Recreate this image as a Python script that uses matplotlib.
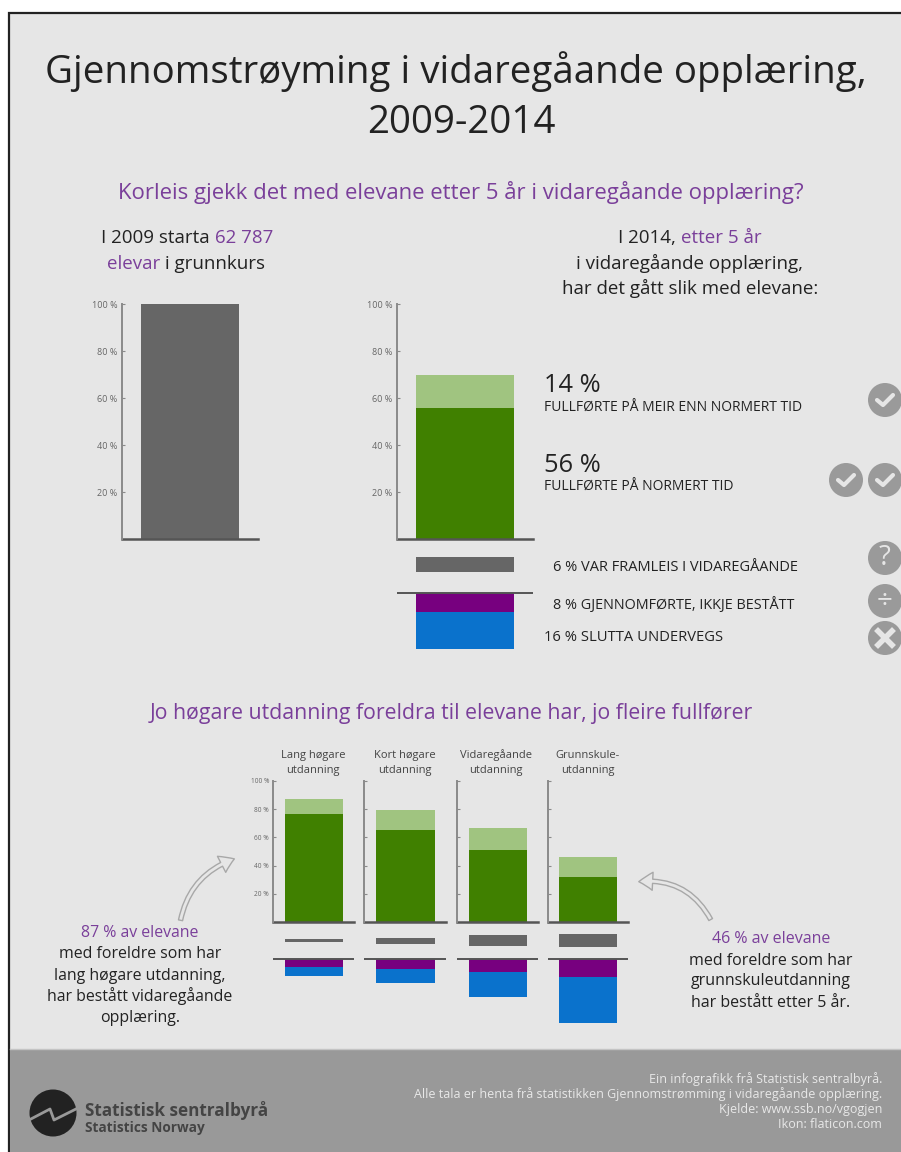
import matplotlib
matplotlib.use("Agg")
import matplotlib.pyplot as plt
from matplotlib.patches import Circle, FancyArrowPatch, Rectangle

plt.rcParams["font.family"] = ["Open Sans", "DejaVu Sans"]

W, H = 901, 1152

PAGE = "#e6e6e6"
FOOTER = "#999999"
DARK = "#222222"
PURPLE = "#7a3f9a"
GREY_BAR = "#666666"
GREEN = "#408000"
LIGHT_GREEN = "#a0c480"
VIOLET = "#77007f"
BLUE = "#0a72cc"
AXIS = "#8a8a8a"
BASE = "#555555"
ICON = "#9a9a9a"

percent_ticks = [20, 40, 60, 80, 100]
percent_labels = ["20 %", "40 %", "60 %", "80 %", "100 %"]

# Alle elevar som starta i 2009
start_total = 100

# Status etter 5 år, alle elevar
normal_all = 56
extra_all = 14
framleis_all = 6
ikkje_bestatt_all = 8
slutta_all = 16

# Status etter 5 år, etter foreldra si utdanning
education = ["Lang høgare\nutdanning", "Kort høgare\nutdanning",
             "Vidaregåande\nutdanning", "Grunnskule-\nutdanning"]
normal_edu = [76.5, 65, 51, 32]
extra_edu = [10.5, 14, 15.5, 14]
framleis_edu = [2.5, 4, 7.5, 9]
ikkje_bestatt_edu = [5.4, 7.3, 8.9, 12.5]
slutta_edu = [6.4, 9.4, 17.7, 33]

fig = plt.figure(figsize=(W / 100, H / 100), dpi=100, facecolor="white")

# overlay in pixel units for text and decoration
page = fig.add_axes([0, 0, 1, 1], zorder=0)
page.set_xlim(0, W)
page.set_ylim(H, 0)
page.axis("off")
page.add_patch(Rectangle((9, 13), W, H, fc=PAGE, ec="#222222", lw=1.6))
page.add_patch(Rectangle((10, 1049), W, H - 1049, fc=FOOTER, ec="none"))
page.plot([10, W], [1049, 1049], color="#c4c4c4", lw=1)


def panel(left, right, top, bottom, ymin, labels=True, tick_size=6.5):
    ax = fig.add_axes([left / W, 1 - bottom / H, (right - left) / W, (bottom - top) / H], zorder=2)
    ax.patch.set_visible(False)
    ax.set_xlim(0, 1)
    ax.set_ylim(ymin, 100)
    for side in ["top", "right", "bottom"]:
        ax.spines[side].set_visible(False)
    ax.spines["left"].set_bounds(0, 100)
    ax.spines["left"].set_color(AXIS)
    ax.spines["left"].set_linewidth(1.4)
    ax.set_xticks([])
    ax.set_yticks(percent_ticks)
    ax.set_yticklabels(percent_labels if labels else [])
    ax.tick_params(axis="y", direction="in", length=2, width=0.8, color=AXIS,
                   labelsize=tick_size, labelcolor="#666666", pad=3)
    return ax


def stacked(ax, normal, extra, framleis, ikkje, slutta, mid_y, split_y):
    ax.bar(0.5, normal, 0.72, color=GREEN)
    ax.bar(0.5, extra, 0.72, bottom=normal, color=LIGHT_GREEN)
    ax.bar(0.5, framleis, 0.72, bottom=mid_y - framleis / 2, color=GREY_BAR)
    ax.bar(0.5, -ikkje, 0.72, bottom=split_y, color=VIOLET)
    ax.bar(0.5, -slutta, 0.72, bottom=split_y - ikkje, color=BLUE)
    ax.axhline(0, color=BASE, lw=1.8, clip_on=False)
    ax.axhline(split_y, color=BASE, lw=1.4)


def mixed_line(xc, y, parts, size):
    # centres a line built from differently coloured pieces
    renderer = fig.canvas.get_renderer()

    def width(s):
        t = page.text(0, 0, s + "x", fontsize=size)
        t2 = page.text(0, 0, "x", fontsize=size)
        w = t.get_window_extent(renderer).width - t2.get_window_extent(renderer).width
        t.remove()
        t2.remove()
        return w

    full = "".join(p[0] for p in parts)
    x = xc - width(full) / 2
    prefix = ""
    for s, c in parts:
        page.text(x + width(prefix), y, s, color=c, fontsize=size, ha="left", va="baseline")
        prefix += s


def label(x, y, s, size, color=DARK, ha="center", **kw):
    page.text(x, y, s, fontsize=size, color=color, ha=ha, va="baseline", **kw)


label(456, 83, "Gjennomstrøyming i vidaregåande opplæring,", 27.7)
label(461, 133, "2009-2014", 27.7)
label(461, 199, "Korleis gjekk det med elevane etter 5 år i vidaregåande opplæring?", 15.9, PURPLE)
label(451, 719, "Jo høgare utdanning foreldra til elevane har, jo fleire fullfører", 15.3, PURPLE)

mixed_line(187, 243, [("I 2009 starta ", DARK), ("62 787", PURPLE)], 13.5)
mixed_line(186, 269, [("elevar", PURPLE), (" i grunnkurs", DARK)], 13.5)
mixed_line(690, 243, [("I 2014, ", DARK), ("etter 5 år", PURPLE)], 13.5)
label(690, 269, "i vidaregåande opplæring,", 13.5)
label(690, 294, "har det gått slik med elevane:", 13.5)

# start bar
ax = panel(121.7, 258, 304, 539.3, 0)
ax.bar(0.5, start_total, 0.72, color=GREY_BAR)
ax.axhline(0, color=BASE, lw=1.8, clip_on=False)

# outcome bar
ax = panel(396.7, 533, 304, 660, -(660 - 539.3) / 2.353)
stacked(ax, normal_all, extra_all, framleis_all, ikkje_bestatt_all, slutta_all, -10.7, -22.7)

label(544, 392, f"{extra_all} %", 18.3, ha="left")
label(544, 411, "FULLFØRTE PÅ MEIR ENN NORMERT TID", 10, ha="left")
label(544, 472, f"{normal_all} %", 18.3, ha="left")
label(544, 490, "FULLFØRTE PÅ NORMERT TID", 10, ha="left")
label(553, 571, f"{framleis_all} % VAR FRAMLEIS I VIDAREGÅANDE", 10.5, ha="left")
label(553, 609, f"{ikkje_bestatt_all} % GJENNOMFØRTE, IKKJE BESTÅTT", 10.4, ha="left")
label(544, 641, f"{slutta_all} % SLUTTA UNDERVEGS", 10.6, ha="left")


def icon(x, y, glyph):
    page.add_patch(Circle((x, y), 17, fc=ICON, ec="none"))
    if glyph == "check":
        page.plot([x - 8, x - 2, x + 8], [y, y + 5, y - 5], color=PAGE, lw=3, solid_capstyle="round")
    elif glyph == "cross":
        page.plot([x - 7, x + 7], [y - 7, y + 7], color=PAGE, lw=4)
        page.plot([x - 7, x + 7], [y + 7, y - 7], color=PAGE, lw=4)
    else:
        page.text(x, y, glyph, color=PAGE, fontsize=20, ha="center", va="center")


icon(885, 400, "check")
icon(846, 480, "check")
icon(885, 480, "check")
icon(885, 558, "?")
icon(885, 601, "÷")
icon(885, 638, "cross")

# one small panel per education level
edu_left = [273.3, 364.3, 457.3, 548.3]
edu_right = [354, 446, 538, 628]
edu_label_x = [313, 405, 496, 588]
for i in range(len(education)):
    ax = panel(edu_left[i], edu_right[i], 780.7, 1030, -(1030 - 922.3) / 1.416, labels=i == 0, tick_size=4.7)
    stacked(ax, normal_edu[i], extra_edu[i], framleis_edu[i], ikkje_bestatt_edu[i], slutta_edu[i], -13, -25.9)
    top, bottom = education[i].split("\n")
    label(edu_label_x[i], 758, top, 8, "#444444")
    label(edu_label_x[i], 773, bottom, 8, "#444444")

# callouts
label(140, 937, "87 % av elevane", 11.4, PURPLE)
for y, s in zip([958, 980, 1001, 1022],
                ["med foreldre som har", "lang høgare utdanning,",
                 "har bestått vidaregåande", "opplæring."]):
    label(140, y, s, 11.4)

label(771, 943, "46 % av elevane", 11.5, PURPLE)
for y, s in zip([965, 985, 1007],
                ["med foreldre som har", "grunnskuleutdanning", "har bestått etter 5 år."]):
    label(771, y, s, 11.5)

arrow_style = "simple,head_length=10,head_width=13,tail_width=3"
page.add_patch(FancyArrowPatch((180, 923), (237, 858), connectionstyle="arc3,rad=-0.3",
                               arrowstyle=arrow_style, fc=PAGE, ec="#a8a8a8", lw=1))
page.add_patch(FancyArrowPatch((712, 922), (636, 882), connectionstyle="arc3,rad=0.35",
                               arrowstyle=arrow_style, fc=PAGE, ec="#a8a8a8", lw=1))

# footer with logo and credits
page.add_patch(Circle((53, 1113), 23.5, fc="#222222", ec="none"))
page.plot([29, 50, 54, 78], [1120, 1109, 1120, 1108], color=FOOTER, lw=2)
label(85, 1116, "Statistisk sentralbyrå", 12.3, "#444444", ha="left", fontweight="bold")
label(85, 1132, "Statistics Norway", 9.8, "#444444", ha="left", fontweight="bold")
for y, s in zip([1083, 1098, 1113, 1128],
                ["Ein infografikk frå Statistisk sentralbyrå.",
                 "Alle tala er henta frå statistikken Gjennomstrømming i vidaregåande opplæring.",
                 "Kjelde: www.ssb.no/vgogjen", "Ikon: flaticon.com"]):
    label(882, y, s, 9, "#e8e8e8", ha="right")

fig.savefig("out.png", dpi=100)
